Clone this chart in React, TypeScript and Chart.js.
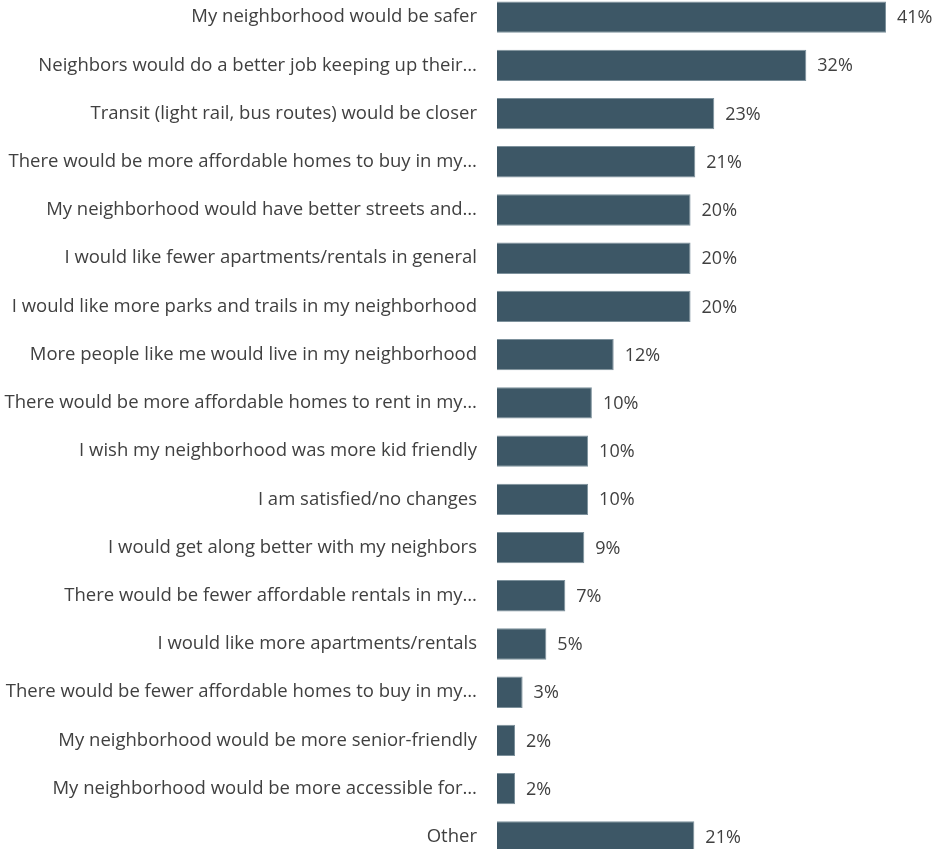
import React, { useEffect, useRef } from "react";
import { Chart, registerables } from "chart.js";

Chart.register(...registerables);

const categories = [
  "My neighborhood would be safer",
  "Neighbors would do a better job keeping up their…",
  "Transit (light rail, bus routes) would be closer",
  "There would be more affordable homes to buy in my…",
  "My neighborhood would have better streets and…",
  "I would like fewer apartments/rentals in general",
  "I would like more parks and trails in my neighborhood",
  "More people like me would live in my neighborhood",
  "There would be more affordable homes to rent in my…",
  "I wish my neighborhood was more kid friendly",
  "I am satisfied/no changes",
  "I would get along better with my neighbors",
  "There would be fewer affordable rentals in my…",
  "I would like more apartments/rentals",
  "There would be fewer affordable homes to buy in my…",
  "My neighborhood would be more senior-friendly",
  "My neighborhood would be more accessible for…",
  "Other",
];

const values = [41, 32.6, 22.9, 20.9, 20.4, 20.4, 20.4, 12.3, 10.0, 9.6, 9.6, 9.2, 7.2, 5.2, 2.7, 1.9, 1.9, 20.8];

const valueLabels = ["41%", "32%", "23%", "21%", "20%", "20%", "20%", "12%", "10%", "10%", "10%", "9%", "7%", "5%", "3%", "2%", "2%", "21%"];

const FONT = "'Open Sans', sans-serif";
const TEXT = "#404040";

const valueLabelPlugin = {
  id: "valueLabels",
  afterDatasetsDraw(chart: any) {
    const ctx = chart.ctx;
    const meta = chart.getDatasetMeta(0);
    ctx.save();
    ctx.font = `18px ${FONT}`;
    ctx.fillStyle = TEXT;
    ctx.textAlign = "left";
    ctx.textBaseline = "middle";
    meta.data.forEach((bar: any, i: number) => {
      ctx.fillText(valueLabels[i], bar.x + 11, bar.y + 1);
    });
    ctx.restore();
  },
};

export default function App() {
  const ref = useRef<HTMLCanvasElement | null>(null);
  useEffect(() => {
    if (!ref.current) return;
    const chart = new Chart(ref.current, {
      type: "bar",
      data: {
        labels: categories,
        datasets: [
          {
            data: values,
            backgroundColor: "#3d5766",
            borderColor: "#7d919c",
            borderWidth: 1,
            barPercentage: 0.65,
            categoryPercentage: 1,
          },
        ],
      },
      options: {
        indexAxis: "y",
        animation: false,
        responsive: false,
        maintainAspectRatio: false,
        layout: { padding: 0 },
        plugins: { legend: { display: false }, tooltip: { enabled: false } },
        scales: {
          x: {
            display: false,
            min: 0,
            max: 47.85,
            grid: { display: false },
          },
          y: {
            afterFit: (scale: any) => {
              scale.width = 497;
              scale.paddingTop = 0;
              scale.paddingBottom = 0;
            },
            border: { display: false },
            grid: { display: false, drawTicks: false },
            ticks: {
              color: TEXT,
              padding: 20,
              autoSkip: false,
              font: { family: FONT, size: 18.5 },
            },
          },
        },
      },
      plugins: [valueLabelPlugin],
    });
    return () => chart.destroy();
  }, []);
  return (
    <div style={{ position: "fixed", top: -7, left: 0, width: 951, height: 868, background: "#fff" }}>
      <canvas ref={ref} width={951} height={868} style={{ display: "block", width: 951, height: 868 }} />
    </div>
  );
}
